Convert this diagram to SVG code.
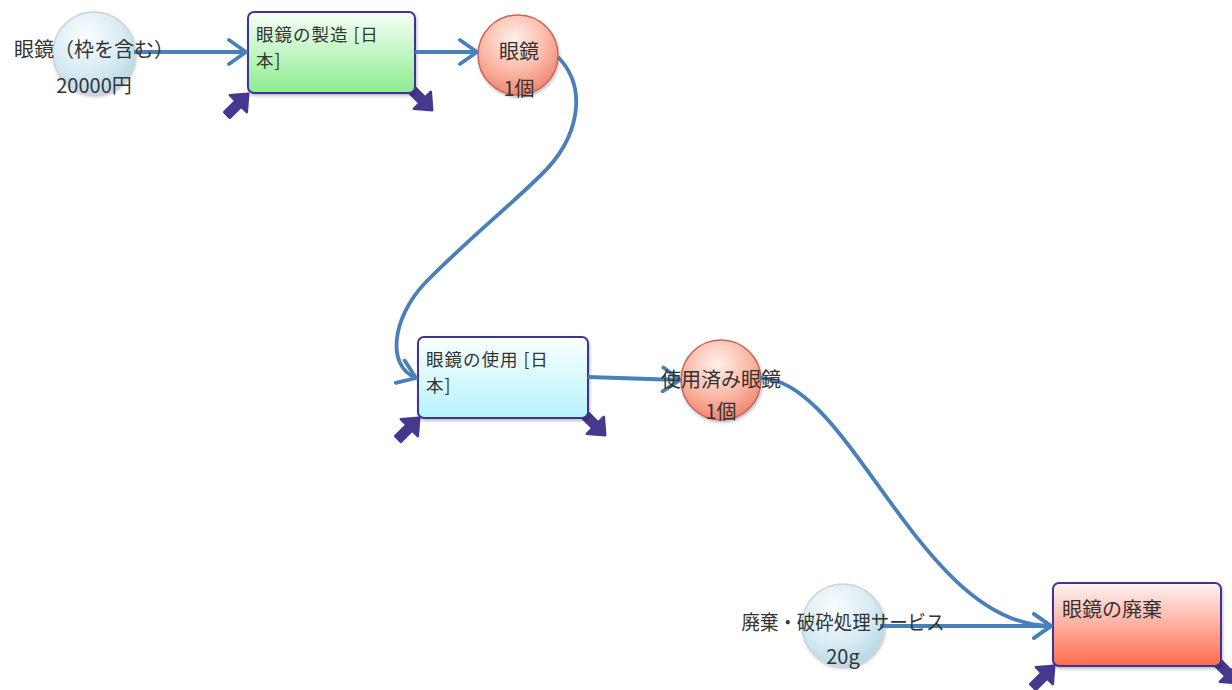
<svg xmlns="http://www.w3.org/2000/svg" width="1232" height="690" viewBox="0 0 1232 690">
<defs>
<style>
.t{font-family:"Noto Sans CJK JP","Noto Sans",sans-serif;font-size:20px;fill:#333;}
.tw{font-size:17.5px;letter-spacing:1px;}
.tc{text-anchor:middle;}
.box{stroke:#3d3596;stroke-width:2;}
.conn{fill:none;stroke:#4a80b9;stroke-width:3.8;}
.icon{fill:#46378f;stroke:#46378f;stroke-width:2.5;stroke-linejoin:round;}
</style>
<linearGradient id="gGreen" x1="0" y1="0" x2="0" y2="1"><stop offset="0" stop-color="#f6fff6"/><stop offset="1" stop-color="#8eec8e"/></linearGradient>
<linearGradient id="gCyan" x1="0" y1="0" x2="0" y2="1"><stop offset="0" stop-color="#fbffff"/><stop offset="1" stop-color="#b6f3fb"/></linearGradient>
<linearGradient id="gRedBox" x1="0" y1="0" x2="0" y2="1"><stop offset="0" stop-color="#fff4f2"/><stop offset="1" stop-color="#ff6a4e"/></linearGradient>
<radialGradient id="gBlue" cx="0.4" cy="0.3" r="0.75"><stop offset="0" stop-color="#fbfdfe"/><stop offset="0.6" stop-color="#d7ebf3"/><stop offset="1" stop-color="#b3d8e8"/></radialGradient>
<radialGradient id="gRed" cx="0.45" cy="0.3" r="0.75"><stop offset="0" stop-color="#fff0ea"/><stop offset="0.55" stop-color="#fbb8a6"/><stop offset="1" stop-color="#ef7e66"/></radialGradient>
<filter id="sh" x="-20%" y="-20%" width="140%" height="140%"><feDropShadow dx="1" dy="2" stdDeviation="1.5" flood-color="#000" flood-opacity="0.25"/></filter>
<marker id="arr" viewBox="0 0 24 28" refX="21" refY="14" markerWidth="24" markerHeight="28" markerUnits="userSpaceOnUse" orient="auto">
<path d="M4,2 L21,14 L4,26" fill="none" stroke="#4a80b9" stroke-width="3.8" stroke-linecap="round" stroke-linejoin="round"/>
</marker>
<g id="ico"><path class="icon" d="M0,-4 L16,-4 L16,-12 L30,0 L16,12 L16,4 L0,4 Z"/></g>
</defs>
<rect width="1232" height="690" fill="#ffffff"/>

<g id="icons">
<use href="#ico" transform="translate(227,115) rotate(-45)"/>
<use href="#ico" transform="translate(411,89) rotate(45)"/>
<use href="#ico" transform="translate(398,439) rotate(-45)"/>
<use href="#ico" transform="translate(584,414) rotate(45)"/>
<use href="#ico" transform="translate(1033,687) rotate(-45)"/>
<use href="#ico" transform="translate(1217,662) rotate(45)"/>
</g>

<g id="n-glasses-in">
<circle cx="94" cy="53" r="41" fill="url(#gBlue)" stroke="#c9d3d8" stroke-width="1.5" filter="url(#sh)"/>
</g>
<g id="n-make">
<rect class="box" x="248" y="12" width="167" height="81" rx="6" fill="url(#gGreen)" filter="url(#sh)"/>
</g>
<g id="n-glasses">
<circle cx="518" cy="55" r="40" fill="url(#gRed)" stroke="#c8655a" stroke-width="1.5" filter="url(#sh)"/>
</g>
<g id="n-use">
<rect class="box" x="418" y="337" width="170" height="81" rx="6" fill="url(#gCyan)" filter="url(#sh)"/>
</g>
<g id="n-used">
<circle cx="721" cy="380" r="40" fill="url(#gRed)" stroke="#c8655a" stroke-width="1.5" filter="url(#sh)"/>
</g>
<g id="n-service">
<circle cx="843" cy="625" r="41" fill="url(#gBlue)" stroke="#c9d3d8" stroke-width="1.5" filter="url(#sh)"/>
</g>
<g id="n-dispose">
<rect class="box" x="1053" y="583" width="168" height="83" rx="6" fill="url(#gRedBox)" filter="url(#sh)"/>
</g>

<g id="connectors">
<path class="conn" d="M134,52 L246,52" marker-end="url(#arr)"/>
<path class="conn" d="M415,52 L477,52" marker-end="url(#arr)"/>
<path class="conn" d="M558,57 C588,88 580,138 540,176 C505,210 462,245 425,283 C392,318 386,366 416,378" marker-end="url(#arr)"/>
<path class="conn" d="M588,377 L680,380" marker-end="url(#arr)"/>
<path class="conn" d="M760,378 C850,378 920,626 1051,626" marker-end="url(#arr)"/>
<path class="conn" d="M880,626 L1051,626" marker-end="url(#arr)"/>
</g>

<g id="labels">
<text class="t tc" x="94" y="57">眼鏡（枠を含む）</text>
<text class="t tc" x="94" y="93">20000円</text>
<text class="t tw" x="256" y="41">眼鏡の製造 [日<tspan x="256" dy="26">本]</tspan></text>
<text class="t tc" x="519" y="59">眼鏡</text>
<text class="t tc" x="519" y="96">1個</text>
<text class="t tw" x="426" y="366">眼鏡の使用 [日<tspan x="426" dy="26">本]</tspan></text>
<text class="t tc" x="721" y="387">使用済み眼鏡</text>
<text class="t tc" x="721" y="419">1個</text>
<text class="t tc" x="843" y="630" textLength="203" lengthAdjust="spacingAndGlyphs">廃棄・破砕処理サービス</text>
<text class="t tc" x="843" y="664">20g</text>
<text class="t" x="1062" y="617">眼鏡の廃棄</text>
</g>
</svg>
